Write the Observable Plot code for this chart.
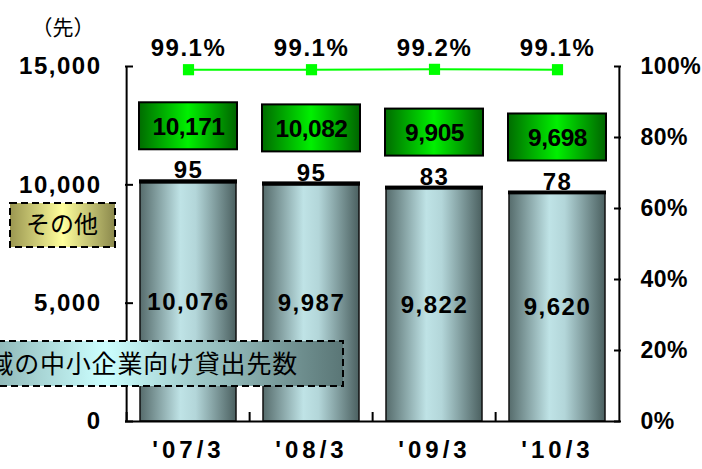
<!DOCTYPE html>
<html><head><meta charset="utf-8">
<script src="https://cdn.jsdelivr.net/npm/d3@7"></script>
<script src="https://cdn.jsdelivr.net/npm/@observablehq/plot@0.6"></script>
<style>
body{margin:0;background:#fff}
#chart svg{display:block}
#chart svg text{letter-spacing:1.5px}
#chart svg g[aria-label="x-axis tick label"] text{letter-spacing:4px}
#chart svg g[aria-label="y-axis tick label"][text-anchor="start"] text{letter-spacing:0.5px}
#chart svg g[font-size="24.5"] text{letter-spacing:-0.5px}
</style></head><body><div id="chart"></div>
<script>
const categories = ["'07/3", "'08/3", "'09/3", "'10/3"];
const mainCounts = [10076, 9987, 9822, 9620];
const otherCounts = [95, 95, 83, 78];
const totalCounts = [10171, 10082, 9905, 9698];
const coverageRatios = [99.1, 99.1, 99.2, 99.1];
const leftTicks = [0, 5000, 10000, 15000];
const rightTicks = [0, 20, 40, 60, 80, 100];
const seriesNames = ["地域の中小企業向け貸出先数", "その他"];
const unitLabel = "（先）";

const leftMax = 15000;
const pct = v => v / 100 * leftMax;
const data = categories.map((c, i) => ({cat: c, main: mainCounts[i], other: otherCounts[i], total: totalCounts[i], ratio: coverageRatios[i]}));
const fmt = d3.format(",");
const numFont = "'Liberation Sans', Arial, sans-serif";
const jpFont = "'Noto Sans CJK JP', sans-serif";

const W = 702, H = 469, mL = 125, mR = 82, mT = 66, mB = 48;
const step = (W - mL - mR) / categories.length;

const plot = Plot.plot({
  width: W, height: H, marginLeft: mL, marginRight: mR, marginTop: mT, marginBottom: mB,
  style: {background: "white", fontFamily: numFont, color: "black"},
  x: {domain: categories, paddingInner: 0.216, paddingOuter: 0.108, label: null},
  y: {domain: [0, leftMax], label: null},
  marks: [
    Plot.barY(data, {x: "cat", y: "main", fill: "url(#barGrad)", stroke: "#111", strokeWidth: 1.5}),
    Plot.barY(data, {x: "cat", y1: "main", y2: "total", fill: "#000", stroke: "#000", strokeWidth: 2}),
    Plot.ruleX(categories, {x: d => d, dx: -step / 2, y1: 0, y2: 0, insetTop: -9, stroke: "#000", strokeWidth: 2}),
    Plot.ruleX([categories[0]], {x: d => d, dx: -step / 2, stroke: "#000", strokeWidth: 2}),
    Plot.ruleX([categories[categories.length - 1]], {x: d => d, dx: step / 2, stroke: "#000", strokeWidth: 2}),
    Plot.ruleY([0], {stroke: "#000", strokeWidth: 2}),
    Plot.axisX({tickSize: 0, tickPadding: 19, fontSize: 24, fontWeight: "bold", label: null}),
    Plot.axisY({anchor: "left", ticks: leftTicks, tickFormat: fmt, tickSize: -8, tickPadding: 32, fontSize: 24, fontWeight: "bold", label: null, strokeWidth: 2}),
    Plot.axisY({anchor: "right", ticks: rightTicks.map(pct), tickFormat: d => `${Math.round(d / leftMax * 100)}%`, tickSize: -7, tickPadding: 27, fontSize: 23, fontWeight: "bold", label: null, strokeWidth: 2}),
    Plot.text(data, {x: "cat", y: d => d.main / 2, text: d => fmt(d.main), fontSize: 24, fontWeight: "bold", fill: "#000"}),
    Plot.text(data, {x: "cat", y: "total", text: d => fmt(d.other), dy: -10, fontSize: 24, fontWeight: "bold", fill: "#000"}),
    Plot.barY(data, {x: "cat", y1: "total", y2: "total", insetTop: -78, insetBottom: 31, insetLeft: -1, insetRight: -1, fill: "url(#greenGrad)", stroke: "#000", strokeWidth: 2}),
    Plot.text(data, {x: "cat", y: "total", text: d => fmt(d.total), dy: -54, fontSize: 24.5, fontWeight: "bold", fill: "#000"}),
    Plot.line(data, {x: "cat", y: d => pct(d.ratio), stroke: "#00ff00", strokeWidth: 2}),
    Plot.dot(data, {x: "cat", y: d => pct(d.ratio), symbol: "square", r: 6.3, fill: "#00ff00", stroke: "none"}),
    Plot.text(data, {x: "cat", y: d => pct(d.ratio), text: d => d.ratio.toFixed(1) + "%", dy: -21, fontSize: 24, fontWeight: "bold", fill: "#000"})
  ]
});

const svg = d3.select(plot);
const defs = svg.insert("defs", ":first-child");
function grad(id, stops) {
  const g = defs.append("linearGradient").attr("id", id).attr("x1", "0%").attr("x2", "100%").attr("y1", "0%").attr("y2", "0%");
  stops.forEach(([o, c]) => g.append("stop").attr("offset", o).attr("stop-color", c));
}
grad("barGrad", [["0%", "#566c6c"], ["42%", "#bfe3e6"], ["58%", "#b3d6d9"], ["100%", "#4b6060"]]);
grad("greenGrad", [["0%", "#006c00"], ["50%", "#00f000"], ["100%", "#006400"]]);
grad("otherGrad", [["0%", "#9a9650"], ["50%", "#ffff9c"], ["100%", "#8a884c"]]);
grad("mainGrad", [["0%", "#5f7f7f"], ["45%", "#ccffff"], ["100%", "#5a7676"]]);

// legend-like labels
const lg = svg.append("g");
lg.append("rect").attr("x", 10).attr("y", 203).attr("width", 105).attr("height", 44)
  .attr("fill", "url(#otherGrad)").attr("stroke", "#000").attr("stroke-width", 2).attr("stroke-dasharray", "7,4");
lg.append("text").attr("x", 62).attr("y", 225).attr("dy", "0.35em").attr("text-anchor", "middle")
  .style("font-family", jpFont).style("font-size", "24px").style("letter-spacing", "0px").text(seriesNames[1]);
lg.append("rect").attr("x", -90).attr("y", 341).attr("width", 433).attr("height", 45)
  .attr("fill", "url(#mainGrad)").attr("stroke", "#000").attr("stroke-width", 2).attr("stroke-dasharray", "7,4");
lg.append("text").attr("x", 298).attr("y", 364).attr("dy", "0.35em").attr("text-anchor", "end")
  .style("font-family", jpFont).style("font-size", "25px").style("letter-spacing", "0.8px").text(seriesNames[0]);
lg.append("text").attr("x", 63).attr("y", 28).attr("dy", "0.35em").attr("text-anchor", "middle")
  .style("font-family", jpFont).style("font-size", "21px").style("letter-spacing", "0px").text(unitLabel);

document.getElementById("chart").appendChild(plot);
</script></body></html>
